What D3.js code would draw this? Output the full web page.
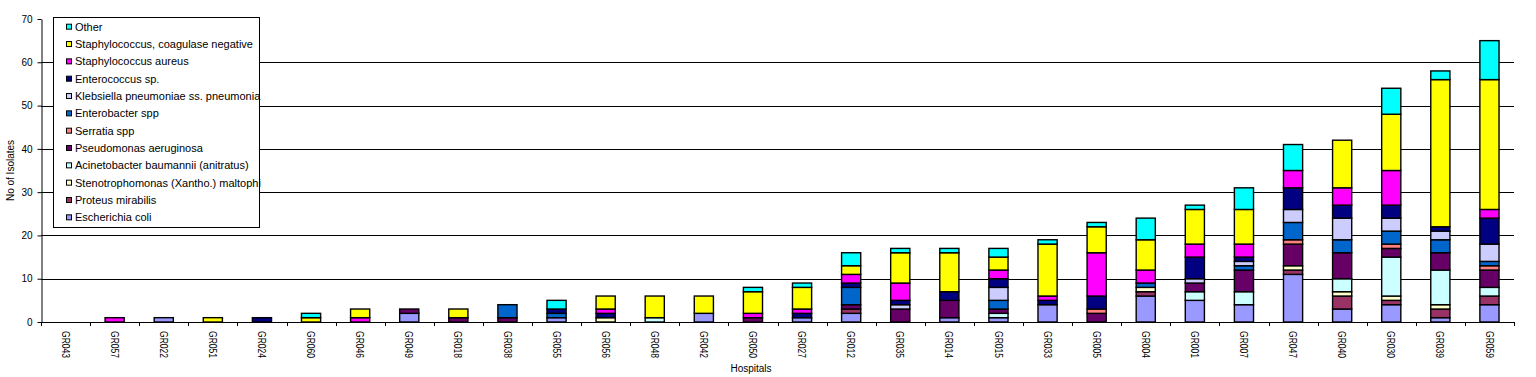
<!DOCTYPE html>
<html>
<head>
<meta charset="utf-8">
<script src="https://cdn.jsdelivr.net/npm/d3@7"></script>
<style>
  body { margin: 0; background: #fff; }
  svg { display: block; font-family: "Liberation Sans", Arial, sans-serif; }
</style>
</head>
<body>
<svg id="chart" width="1536" height="377"></svg>
<script>
var hospitals = ["GR043", "GR057", "GR022", "GR051", "GR024", "GR060", "GR046", "GR049", "GR018", "GR038",
  "GR055", "GR056", "GR048", "GR042", "GR050", "GR027", "GR012", "GR035", "GR014", "GR015",
  "GR033", "GR005", "GR004", "GR001", "GR007", "GR047", "GR040", "GR030", "GR039", "GR059"];

// isolates per organism, one value per hospital (same order as above)
var eColi        = [0,0,1,0,0,0,0,2,0,0, 1,0,0,2,0,1,2,0,1,1, 4,0,6,5,4,11,3,4,1,4];
var proteus      = [0,0,0,0,0,0,0,0,0,0, 0,0,0,0,0,0,1,0,0,0, 0,0,1,0,0,1,3,1,2,2];
var steno        = [0,0,0,0,0,0,0,0,0,0, 0,1,0,0,0,0,0,0,0,0, 0,0,1,0,0,1,1,1,1,0];
var acineto      = [0,0,0,0,0,0,0,0,0,0, 0,0,1,0,0,0,0,0,0,1, 0,0,0,2,3,0,3,9,8,2];
var pseudomonas  = [0,0,0,0,0,0,0,1,1,1, 0,0,0,0,1,0,1,3,4,1, 0,2,0,2,5,5,6,2,4,4];
var serratia     = [0,0,0,0,0,0,0,0,0,0, 0,0,0,0,0,0,0,0,0,0, 0,1,0,0,0,1,0,1,0,1];
var enterobacter = [0,0,0,0,0,0,0,0,0,3, 1,0,0,0,0,0,4,0,0,2, 0,0,1,0,1,4,3,3,3,1];
var klebsiella   = [0,0,0,0,0,0,0,0,0,0, 0,0,0,0,0,0,0,1,0,3, 0,0,0,1,1,3,5,3,2,4];
var enterococcus = [0,0,0,0,1,0,0,0,0,0, 1,1,0,0,0,1,1,1,2,2, 1,3,0,5,1,5,3,3,1,6];
var sAureus      = [0,1,0,0,0,0,1,0,0,0, 0,1,0,0,1,1,2,4,0,2, 1,10,3,3,3,4,4,8,0,2];
var sCoagNeg     = [0,0,0,1,0,1,2,0,2,0, 0,3,5,4,5,5,2,7,9,3, 12,6,7,8,8,0,11,13,34,30];
var other        = [0,0,0,0,0,1,0,0,0,0, 2,0,0,0,1,1,3,1,1,2, 1,1,5,1,5,6,0,6,2,9];

// bottom of the stack first
var organisms = ["Escherichia coli", "Proteus mirabilis", "Stenotrophomonas (Xantho.) maltophi",
  "Acinetobacter baumannii (anitratus)", "Pseudomonas aeruginosa", "Serratia spp", "Enterobacter spp",
  "Klebsiella pneumoniae ss. pneumonia", "Enterococcus sp.", "Staphylococcus aureus",
  "Staphylococcus, coagulase negative", "Other"];
var series = [eColi, proteus, steno, acineto, pseudomonas, serratia, enterobacter,
  klebsiella, enterococcus, sAureus, sCoagNeg, other];
var colors = ["#9999ff", "#993366", "#ffffcc", "#ccffff", "#660066", "#ff8080", "#0066cc",
  "#ccccff", "#000080", "#ff00ff", "#ffff00", "#00ffff"];
var yTicks = [0, 10, 20, 30, 40, 50, 60, 70];

var table = hospitals.map(function (h, i) {
  var row = { hospital: h };
  organisms.forEach(function (o, k) { row[o] = series[k][i]; });
  return row;
});

var svg = d3.select("#chart");
var plotLeft = 41, plotRight = 1514, plotTop = 19, plotBottom = 322;

var x = d3.scaleBand().domain(hospitals).range([plotLeft, plotRight]).paddingInner(0.61).paddingOuter(0.305);
var y = d3.scaleLinear().domain([0, 70]).range([plotBottom, plotTop]);
var color = d3.scaleOrdinal().domain(organisms).range(colors);

// gridlines
svg.append("g")
  .selectAll("line")
  .data(yTicks.filter(function (d) { return d > 0 && d < 70; }))
  .enter()
  .append("line")
  .attr("x1", plotLeft).attr("x2", plotRight)
  .attr("y1", function (d) { return Math.round(y(d)) + 0.5; })
  .attr("y2", function (d) { return Math.round(y(d)) + 0.5; })
  .attr("stroke", "#000");

// stacked bars
var stacked = d3.stack().keys(organisms)(table);
svg.append("g")
  .selectAll("g")
  .data(stacked)
  .enter()
  .append("g")
  .attr("fill", function (d) { return color(d.key); })
  .selectAll("rect")
  .data(function (d) { return d.filter(function (s) { return s[1] - s[0] > 0; }); })
  .enter()
  .append("rect")
  .attr("x", function (d) { return x(d.data.hospital); })
  .attr("y", function (d) { return y(d[1]); })
  .attr("width", x.bandwidth())
  .attr("height", function (d) { return y(d[0]) - y(d[1]); })
  .attr("stroke", "#000")
  .attr("stroke-width", 1.4);

// y axis
var yAxis = svg.append("g")
  .attr("transform", "translate(" + (plotLeft + 0.5) + ",0)")
  .call(d3.axisLeft(y).tickValues(yTicks).tickSize(4).tickPadding(5).tickSizeOuter(0));
yAxis.select(".domain").attr("stroke", "#000");
yAxis.selectAll("text").attr("font-size", 10).attr("fill", "#000")
  .attr("font-family", "'Liberation Sans', Arial, sans-serif");

// x axis line and ticks at category boundaries
svg.append("line")
  .attr("x1", plotLeft).attr("x2", plotRight)
  .attr("y1", plotBottom + 0.5).attr("y2", plotBottom + 0.5)
  .attr("stroke", "#000");
svg.append("g")
  .selectAll("line")
  .data(hospitals.concat(["end"]))
  .enter()
  .append("line")
  .attr("x1", function (d, i) { return Math.round(plotLeft + i * x.step()) + 0.5; })
  .attr("x2", function (d, i) { return Math.round(plotLeft + i * x.step()) + 0.5; })
  .attr("y1", plotBottom).attr("y2", plotBottom + 4)
  .attr("stroke", "#000");

svg.append("g")
  .selectAll("text")
  .data(hospitals)
  .enter()
  .append("text")
  .attr("transform", function (d) {
    return "translate(" + (x(d) + x.bandwidth() / 2) + "," + 331 + ") rotate(90)";
  })
  .attr("dy", "0.35em")
  .attr("font-size", 11)
  .attr("textLength", 27)
  .attr("lengthAdjust", "spacingAndGlyphs")
  .text(function (d) { return d; });

// axis titles
svg.append("text")
  .attr("transform", "translate(14," + (plotTop + plotBottom) / 2 + ") rotate(-90)")
  .attr("text-anchor", "middle")
  .attr("font-size", 10)
  .text("No of Isolates");

svg.append("text")
  .attr("x", 751).attr("y", 372)
  .attr("text-anchor", "middle")
  .attr("font-size", 10)
  .text("Hospitals");

// legend, top entry is the top of the stack
var legend = svg.append("g");
legend.append("rect")
  .attr("x", 53.5).attr("y", 17.5)
  .attr("width", 206).attr("height", 210)
  .attr("fill", "#fff").attr("stroke", "#000");

var items = legend.selectAll("g.item")
  .data(organisms.slice().reverse())
  .enter()
  .append("g")
  .attr("class", "item")
  .attr("transform", function (d, i) { return "translate(0," + (26.7 + i * 17.33) + ")"; });
items.append("rect")
  .attr("x", 66.5).attr("y", -2.5)
  .attr("width", 5).attr("height", 5)
  .attr("fill", function (d) { return color(d); })
  .attr("stroke", "#000");
items.append("text")
  .attr("x", 75).attr("dy", "0.35em")
  .attr("font-size", 11)
  .text(function (d) { return d; });
</script>
</body>
</html>
